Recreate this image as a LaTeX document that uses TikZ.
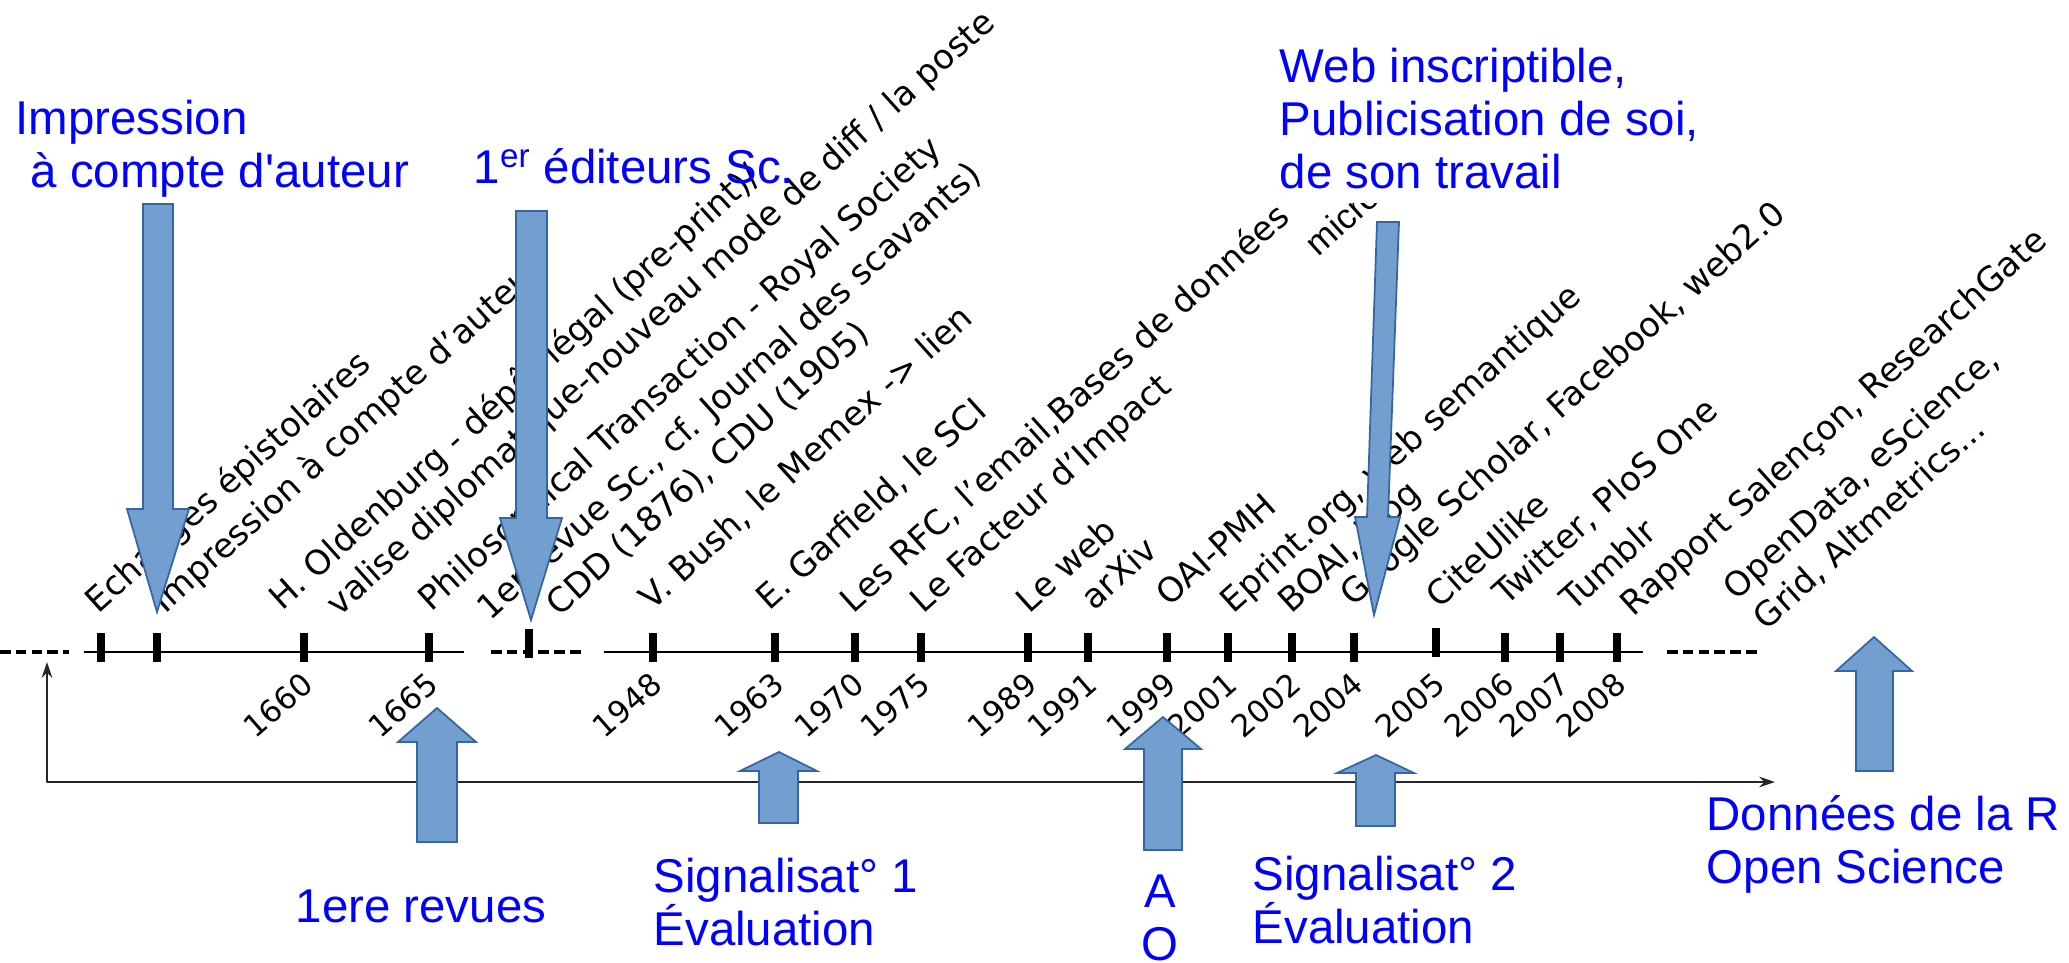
\documentclass[tikz,border=0pt]{standalone}
\usepackage{fontspec}
\setmainfont{DejaVu Sans}
\newfontfamily\bluefont{Liberation Sans}
\usetikzlibrary{arrows.meta}
\definecolor{arrowfill}{HTML}{729FCF}
\definecolor{arrowline}{HTML}{3465A4}
\tikzset{
  event/.style={anchor=base west,rotate=42,inner sep=0pt,xshift=0.16cm,font=\fontsize{19.3}{22}\selectfont},
  year/.style={anchor=east,rotate=41,inner sep=0pt,font=\fontsize{17.5}{20}\selectfont},
  comment/.style={text=blue,align=left,inner sep=0pt,anchor=base west,font=\bluefont\fontsize{27}{30}\selectfont},
  blockarrow/.style={fill=arrowfill,draw=arrowline,line width=1pt,line join=miter},
  tickmark/.style={line width=4.2pt},
}
\begin{document}
\begin{tikzpicture}[x=0.02cm,y=-0.02cm,thick,line join=round]
  \useasboundingbox (0,0) rectangle (2069,963);
  % time line
  \draw[line width=1.8pt,dash pattern=on 6pt off 3pt] (0,652) -- (69,652);
  \draw[line width=1.5pt] (84,652) -- (464,652);
  \draw[line width=1.8pt,dash pattern=on 6pt off 3pt] (491,652) -- (584,652);
  \draw[line width=1.5pt] (604,652) -- (1643,652);
  \draw[line width=1.8pt,dash pattern=on 6pt off 3pt] (1667,652) -- (1758,652);
  \foreach \x in {101,157,304,429,653,775,855,921,1028,1088,1167,1228,1292,1354,1505,1560,1617}
    \draw[tickmark] (\x,633) -- (\x,662);
  \draw[tickmark] (529,629) -- (529,658);
  \draw[tickmark] (1436,628) -- (1436,657);
  \draw[black!85,line width=1.1pt,{Stealth[length=9pt,width=6pt]}-{Stealth[length=9pt,width=6pt]}]
    (47,662) -- (47,782) -- (1775,782);
  % years
  \foreach \x/\yr in {304/1660,429/1665,653/1948,775/1963,855/1970,921/1975,1028/1989,
      1088/1991,1167/1999,1228/2001,1292/2002,1354/2004,1436/2005,1505/2006,1560/2007,1617/2008}
    \node[year] (y\yr) at (\x+4,679) {\yr};
  % events
  \node[event] (ech) at (92,620) {Echanges épistolaires};
  \node[event] (imp) at (159,620) {Impression à compte d'auteur};
  \node[event] (old) at (276,617) {H. Oldenburg - dépôt légal (pre-print)/};
  \node[event] (val) at (333,623) {valise diplomatique-nouveau mode de diff / la poste};
  \node[event] (phil) at (425,618) {Philosophical Transaction - Royal Society};
  \node[event] (rev1) at (484,627) {1er revue Sc., cf. Journal des scavants)};
  \node[event] (cdd) at (553,623) {CDD (1876), CDU (1905)};
  \node[event] (bush) at (646,617) {V. Bush, le Memex -{}> lien};
  \node[event] (garf) at (763,617) {E. Garfield, le SCI};
  \node[event] (rfc) at (847,620) {Les RFC, l'email,Bases de données};
  \node[event] (fact) at (917,620) {Le Facteur d'Impact};
  \node[event] (web) at (1023,620) {Le web};
  \node[event] (arx) at (1088,617) {arXiv};
  \node[event] (oai) at (1163,613) {OAI-PMH};
  \node[event] (epr) at (1227,620) {Eprint.org, web semantique};
  \node[event] (boai) at (1285,620) {BOAI, blog};
  \node[event] (goog) at (1347,613) {Google Scholar, Facebook, web2.0};
  \node[event] (cite) at (1433,615) {CiteUlike};
  \node[event] (twit) at (1500,612) {Twitter, PloS One};
  \node[event] (tumb) at (1567,618) {Tumblr};
  \node[event] (rapp) at (1627,623) {Rapport Salençon, ResearchGate};
  \node[event] (open) at (1730,607) {OpenData, eScience,};
  \node[event] (grid) at (1760,637) {Grid, Altmetrics...};
  \node[anchor=base west,rotate=42,inner sep=0pt,font=\bluefont\fontsize{20}{22}\selectfont] (micro) at (1318,258) {micro};
  % comments
  \node[comment] (cimp) at (15,187) {Impression\\\hspace*{0.3cm}à compte d'auteur};
  \node[comment] (cedit) at (473,183) {1\textsuperscript{er} éditeurs Sc.};
  \node[comment,fill=white,inner ysep=8pt] (cweb) at (1279,188) {Web inscriptible,\\Publicisation de soi,\\de son travail};
  \node[comment] (crev) at (295,922) {1ere revues};
  \node[comment] (csig1) at (653,945) {Signalisat° 1\\Évaluation};
  \node[comment,align=center,anchor=base] (cao) at (1160,960) {A\\O};
  \node[comment] (csig2) at (1252,943) {Signalisat° 2\\Évaluation};
  \node[comment] (cdata) at (1706,883) {Données de la R\\Open Science};
  % block arrows
  \draw[blockarrow] (143,204) -- (173,204) -- (173,509) -- (189,509) -- (157,612) -- (127,509) -- (143,509) -- cycle;
  \draw[blockarrow] (516,211) -- (547,211) -- (547,518) -- (562,518) -- (531,620) -- (500,518) -- (516,518) -- cycle;
  \draw[blockarrow] (1377,222) -- (1399,222) -- (1388,517) -- (1400,517) -- (1374,615) -- (1355,517) -- (1367,517) -- cycle;
  \draw[blockarrow] (417,842) -- (457,842) -- (457,742) -- (476,742) -- (437,708) -- (398,742) -- (417,742) -- cycle;
  \draw[blockarrow] (759,823) -- (798,823) -- (798,771) -- (817,771) -- (779,752) -- (740,771) -- (759,771) -- cycle;
  \draw[blockarrow] (1144,850) -- (1182,850) -- (1182,749) -- (1201,749) -- (1163,717) -- (1125,749) -- (1144,749) -- cycle;
  \draw[blockarrow] (1356,826) -- (1395,826) -- (1395,773) -- (1414,773) -- (1376,755) -- (1337,773) -- (1356,773) -- cycle;
  \draw[blockarrow] (1856,771) -- (1893,771) -- (1893,671) -- (1912,671) -- (1874,637) -- (1836,671) -- (1856,671) -- cycle;
\end{tikzpicture}
\end{document}
